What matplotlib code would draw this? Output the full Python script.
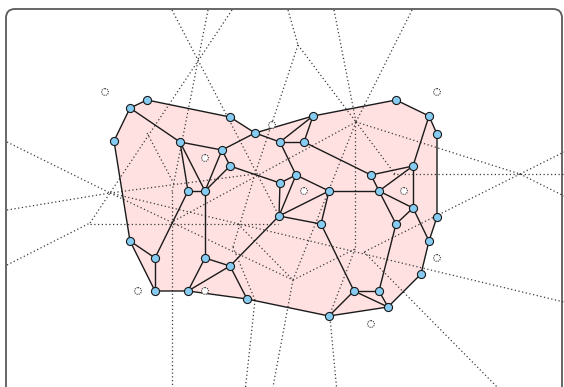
import matplotlib
matplotlib.use("Agg")
import matplotlib.pyplot as plt
from matplotlib.patches import Polygon, Circle, FancyBboxPatch

# Node positions (pixel space, y grows downward)
node_x = [130, 147, 114, 180, 230, 255, 280, 222, 230, 280,
          188, 205, 313, 396, 429, 437, 304, 296, 371, 413,
          329, 379, 279, 130, 155, 205, 230, 155, 188, 247,
          413, 437, 396, 321, 429, 421, 354, 379, 388, 329]
node_y = [108, 100, 141, 142, 117, 133, 142, 150, 166, 183,
          191, 191, 116, 100, 116, 134, 142, 175, 175, 166,
          191, 191, 216, 241, 258, 258, 266, 291, 291, 299,
          208, 217, 224, 224, 241, 274, 291, 291, 307, 316]

# Outer boundary of the filled region (node indices)
hull = [0, 1, 4, 5, 12, 13, 14, 15, 31, 34, 35, 38, 39, 29, 28, 27, 23, 2]

# Inner edges (node index pairs)
edges = [(0, 3), (3, 7), (3, 10), (3, 11), (7, 5), (7, 11), (7, 8),
         (8, 11), (8, 9), (10, 11), (5, 6), (6, 16), (12, 16), (12, 6),
         (6, 17), (17, 9), (16, 18), (17, 20), (20, 21), (18, 21),
         (18, 19), (14, 19), (19, 30), (19, 21), (9, 22), (17, 22),
         (20, 22), (22, 33), (20, 33), (33, 36), (22, 26), (21, 32),
         (30, 32), (21, 30), (30, 34), (32, 37), (36, 37), (36, 38),
         (37, 38), (36, 39), (25, 26), (26, 28), (25, 28), (26, 29),
         (11, 25), (10, 24), (23, 24), (24, 27)]

# Sites drawn as dashed rings
site_x = [105, 437, 205, 272, 304, 404, 138, 205, 437, 371]
site_y = [92, 92, 158, 125, 191, 191, 291, 291, 258, 324]

# Dotted partition lines: (x0, y0, x1, y1)
div_lines = [
    (172, 10, 280, 218), (208, 10, 172, 192), (232, 10, 110, 193),
    (7, 142, 110, 193), (7, 210, 110, 193), (7, 265, 90, 223),
    (90, 223, 110, 193), (90, 224, 278, 224), (172, 192, 172, 392),
    (288, 10, 298, 45), (298, 45, 356, 122), (298, 45, 255, 174),
    (334, 10, 356, 122), (412, 10, 356, 122), (356, 122, 293, 280),
    (356, 122, 520, 174),
    (520, 174, 564, 152), (520, 174, 564, 196), (393, 174, 564, 174),
    (355, 122, 355, 249), (356, 122, 172, 222), (356, 122, 395, 174),
    (520, 174, 364, 252), (364, 252, 502, 392), (110, 193, 564, 302),
    (110, 193, 293, 280), (110, 193, 255, 174), (255, 174, 233, 247),
    (238, 224, 293, 280), (293, 280, 272, 392), (293, 280, 355, 249),
    (355, 249, 330, 314), (330, 318, 337, 392), (233, 247, 255, 300),
    (255, 300, 245, 392), (147, 133, 173, 182),
]

fig = plt.figure(figsize=(5.64, 3.87), dpi=100)
ax = fig.add_axes([0, 0, 1, 1])
ax.set_xlim(0, 564)
ax.set_ylim(387, 0)
ax.axis("off")

frame = FancyBboxPatch((6, 9), 556, 400, boxstyle="round,pad=0,rounding_size=9",
                       fc="white", ec="#5a5a5a", lw=1.3, zorder=0)
ax.add_patch(frame)

poly = Polygon([(node_x[i], node_y[i]) for i in hull], closed=True,
               fc="#ffe1e1", ec="none", zorder=1)
ax.add_patch(poly)

for x0, y0, x1, y1 in div_lines:
    ax.plot([x0, x1], [y0, y1], color="#3c3c3c", lw=0.9,
            linestyle=(0, (1, 2)), zorder=2, solid_capstyle="butt")

ring = hull + [hull[0]]
ax.plot([node_x[i] for i in ring], [node_y[i] for i in ring],
        color="#1a1a1a", lw=1.0, zorder=3)
for a, b in edges:
    ax.plot([node_x[a], node_x[b]], [node_y[a], node_y[b]],
            color="#1a1a1a", lw=1.0, zorder=3)

ax.scatter(node_x, node_y, s=34, c="#86cbf2", edgecolors="#1a1a1a",
           linewidths=0.8, zorder=4)

for x, y in zip(site_x, site_y):
    ax.add_patch(Circle((x, y), 3.4, fc="white", ec="#333333", lw=0.8,
                        linestyle=(0, (1, 1)), zorder=4))

fig.savefig("out.png", dpi=100)
